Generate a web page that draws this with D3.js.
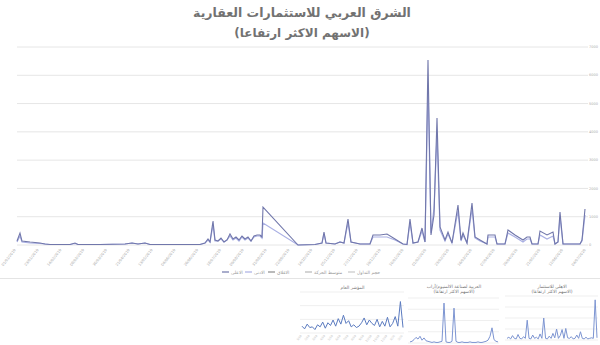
<!DOCTYPE html>
<html>
<head>
<meta charset="utf-8">
<script src="https://cdn.jsdelivr.net/npm/d3@7"></script>
<style>
  body { margin: 0; background: #fff; }
  svg { display: block; font-family: "DejaVu Sans", sans-serif; }
</style>
</head>
<body>
<svg id="chart" width="600" height="345"></svg>
<script>
// main chart data: day offset and two price series
var days = [0,3,5,13,23,28,33,53,58,61,
  83,108,115,121,128,133,183,188,191,193,
  196,198,201,204,207,210,213,216,219,222,
  225,228,231,234,237,240,243,245,246,281,
  298,305,307,309,318,323,327,331,334,343,
  353,356,363,370,378,386,390,393,396,401,
  405,408,411,414,417,420,423,428,431,435,
  441,444,446,450,455,458,463,470,471,478,
  480,488,491,498,506,510,513,515,521,523,
  530,536,538,541,543,546,563,565,568]

var highPrice = [141,424,141,106,71,35,18,18,71,18,
  18,35,71,35,71,18,18,71,212,106,
  848,177,141,247,106,177,389,212,283,177,
  318,212,283,141,318,354,354,283,1343,0,
  18,71,460,71,35,106,71,919,106,35,
  35,354,354,389,212,35,18,919,71,106,
  601,106,6540,354,1061,4490,636,177,460,71,
  1414,177,424,71,1485,283,177,35,354,354,
  35,35,530,354,177,283,283,35,35,495,
  354,460,35,106,1167,35,35,177,1273]

var closePrice = [106,318,106,71,53,35,18,18,53,18,
  18,35,71,35,71,18,18,71,177,106,
  707,141,141,212,106,177,318,177,247,141,
  283,177,247,141,283,318,318,247,778,0,
  18,71,389,71,35,106,71,778,106,35,
  35,283,283,283,177,35,18,778,71,106,
  495,106,5656,424,1308,3889,530,141,389,71,
  1202,141,354,71,1273,247,141,35,283,283,
  35,35,424,283,106,212,212,35,35,354,
  212,318,35,106,990,35,35,141,1061]

var tickLabels = ["01/01/2019","23/01/2019","14/02/2019","08/03/2019","30/03/2019","21/04/2019",
  "13/05/2019","04/06/2019","26/06/2019","18/07/2019","09/08/2019","31/08/2019","22/09/2019",
  "14/10/2019","05/11/2019","27/11/2019","19/12/2019","10/01/2020","01/02/2020","23/02/2020",
  "16/03/2020","07/04/2020","29/04/2020","21/05/2020","12/06/2020","04/07/2020"]

var yTicks = [0,1000,2000,3000,4000,5000,6000,7000]

var legendNames = ["الاعلى","الادنى","الاغلاق","متوسط الحركة","حجم التداول"]

// small charts at the bottom
var miniIndex = [1.0,0.6,1.3,0.8,0.9,0.5,1.2,0.9,1.6,0.7,1.5,1.1,1.9,1.0,2.1,1.3,2.6,1.4,1.8,0.9,
  1.2,0.8,1.0,1.5,2.2,1.2,1.9,1.4,1.1,2.0,0.9,1.7,1.0,2.3,0.9,1.4,2.4,1.0,4.6,0.8]
var miniTicks = ["1/19","2/19","3/19","4/19","5/19","6/19","7/19","8/19","9/19","10/19","11/19","12/19","1/20","2/20"]
var miniAluminium = [0.2,0.3,0.6,1.0,0.7,1.2,0.5,0.9,0.4,0.3,0.2,0.1,0.2,0.1,0.1,0.2,0.3,7.1,0.2,0.1,
  0.1,0.3,6.2,0.3,0.1,0.1,0.2,0.1,0.1,0.1,0.2,0.1,0.1,0.1,0.2,0.1,0.1,0.2,0.3,0.5,1.2,2.7,0.6,0.3,0.2]
var miniAhli = [0.3,0.5,0.2,0.8,0.3,0.2,1.0,0.3,0.2,0.6,0.3,3.6,0.3,0.2,0.9,0.3,0.5,0.2,1.1,0.3,
  4.0,0.3,0.2,0.7,0.3,1.2,0.4,2.0,0.3,0.8,1.9,0.3,2.1,0.4,0.3,0.6,0.2,0.3,0.9,0.3,
  1.5,0.3,0.2,0.5,0.2,0.3,0.4,0.3,7.3,0.4]
var miniTitles = [["المؤشر العام"],
  ["العربية لصناعة الالمنيوم/آراب","(الاسهم الاكثر ارتفاعا)"],
  ["الاهلي للاستثمار","(الاسهم الاكثر ارتفاعا)"]]

var svg = d3.select("#chart")

var x = d3.scaleLinear().domain([0, 570]).range([17, 587])
var y = d3.scaleLinear().domain([0, 7000]).range([245, 47])

// title
svg.append("text").attr("x", 302).attr("y", 17).attr("text-anchor", "middle")
  .attr("font-size", 12.5).attr("font-weight", "bold").attr("fill", "#727272")
  .text("الشرق العربي للاستثمارات العقارية")
svg.append("text").attr("x", 302).attr("y", 37).attr("text-anchor", "middle")
  .attr("font-size", 12).attr("font-weight", "bold").attr("fill", "#727272")
  .text("(الاسهم الاكثر ارتفاعا)")

// gridlines
svg.append("g").selectAll("line").data(yTicks).enter().append("line")
  .attr("x1", 17).attr("x2", 588)
  .attr("y1", d => y(d)).attr("y2", d => y(d))
  .attr("stroke", "#e6e6e6").attr("stroke-width", 1)

// right axis labels
svg.append("g").selectAll("text").data(yTicks).enter().append("text")
  .attr("x", 589).attr("y", d => y(d) + 1.2)
  .attr("font-size", 3.5).attr("fill", "#aaa")
  .text(d => d)

// x tick labels, slanted
var tickStep = 570 / (tickLabels.length - 1)
svg.append("g").selectAll("text").data(tickLabels).enter().append("text")
  .attr("transform", (d, i) => "translate(" + (x(i * tickStep) - 1) + ",250) rotate(-52)")
  .attr("text-anchor", "end").attr("font-size", 3.6).attr("fill", "#aaa")
  .text(d => d)

// series
var line1 = d3.line().x((d, i) => x(days[i])).y(d => y(d))
svg.append("path").datum(closePrice).attr("d", line1)
  .attr("fill", "none").attr("stroke", "#aab0e4").attr("stroke-width", 1.2)
svg.append("path").datum(highPrice).attr("d", line1)
  .attr("fill", "none").attr("stroke", "#7177ab").attr("stroke-width", 1.1)

// legend
var legendColors = ["#7177ab","#aab0e4","#8c8c8c","#b8b8b8","#c8c8c8"]
var legendX = [222, 245, 268, 305, 348]
var lg = svg.append("g").selectAll("g").data(legendNames).enter().append("g")
  .attr("transform", (d, i) => "translate(" + legendX[i] + ",272)")
lg.append("line").attr("x1", 0).attr("x2", 7).attr("stroke", (d, i) => legendColors[i]).attr("stroke-width", 1.2)
lg.append("text").attr("x", 9).attr("y", 1.5).attr("font-size", 4.5).attr("fill", "#999").text(d => d)

// separator above bottom strip
svg.append("line").attr("x1", 0).attr("x2", 600).attr("y1", 278.5).attr("y2", 278.5)
  .attr("stroke", "#e4e4e4")

// bottom mini charts
var minis = [
  {data: miniIndex, x0: 302, x1: 403, yb: 333, yt: 292, max: 6, color: "#5b7bc0", titleY: 289},
  {data: miniAluminium, x0: 410, x1: 498, yb: 343, yt: 298, max: 8, color: "#7d95d2", titleY: 288},
  {data: miniAhli, x0: 507, x1: 597, yb: 340, yt: 296, max: 8, color: "#7d95d2", titleY: 288}
]
minis.forEach(function(m, k) {
  var g = svg.append("g")
  var mx = d3.scaleLinear().domain([0, m.data.length - 1]).range([m.x0, m.x1])
  var my = d3.scaleLinear().domain([0, m.max]).range([m.yb, m.yt])
  g.selectAll("line.grid").data(my.ticks(4)).enter().append("line")
    .attr("x1", m.x0 - 2).attr("x2", m.x1 + 1)
    .attr("y1", d => my(d)).attr("y2", d => my(d))
    .attr("stroke", "#efefef")
  miniTitles[k].forEach(function(t, j) {
    g.append("text").attr("x", (m.x0 + m.x1) / 2).attr("y", m.titleY + j * 5)
      .attr("text-anchor", "middle").attr("font-size", 4.5).attr("fill", "#777").text(t)
  })
  g.append("path").datum(m.data)
    .attr("d", d3.line().x((d, i) => mx(i)).y(d => my(d)))
    .attr("fill", "none").attr("stroke", m.color).attr("stroke-width", 1)
  if (k === 0) {
    g.selectAll("text.tk").data(miniTicks).enter().append("text")
      .attr("transform", (d, i) => "translate(" + mx(i * 3) + "," + (m.yb + 3) + ") rotate(-50)")
      .attr("text-anchor", "end").attr("font-size", 2.8).attr("fill", "#bbb")
      .text(d => d)
  }
})
</script>
</body>
</html>
